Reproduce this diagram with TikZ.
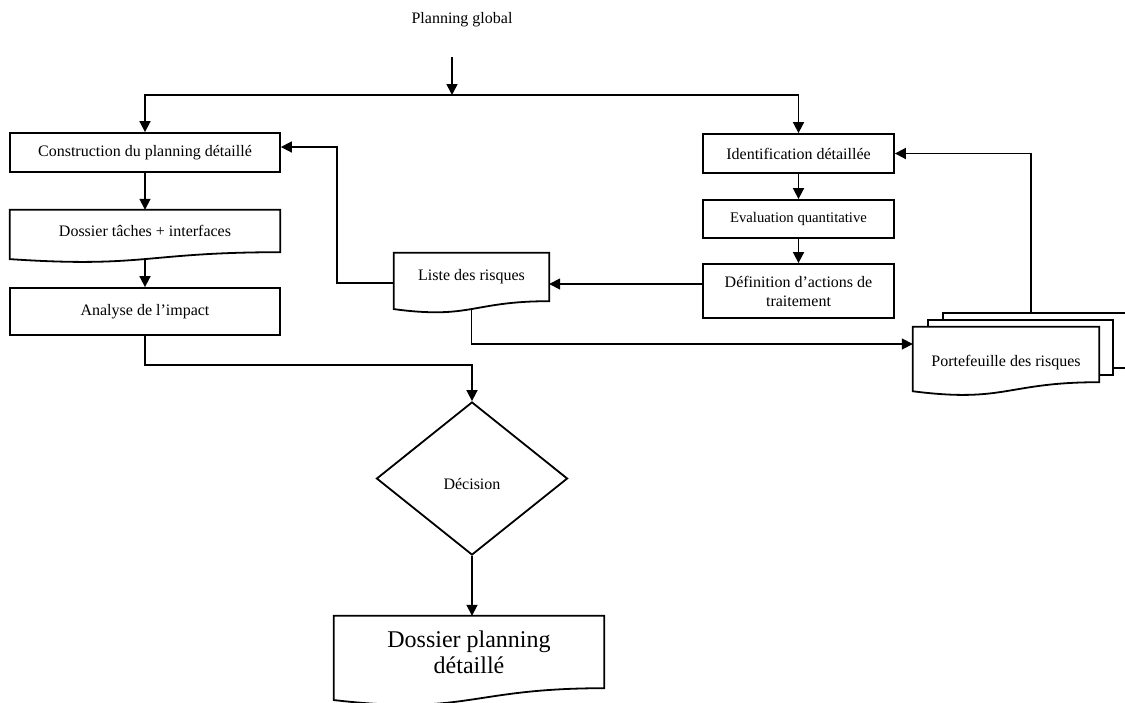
\documentclass[tikz,border=0pt]{standalone}
\usepackage{fontspec}
\setmainfont{Liberation Serif}
\usetikzlibrary{arrows.meta,calc,shapes.geometric}
\newcommand{\docwave}[2]{%
  \draw[outl] (#1.south west) -- (#1.north west) -- (#1.north east) -- (#1.south east)
    .. controls (#1.south) and ($(#1.south)+(0,0.381*#2)$) .. ($(#1.south west)+(0,0.1646*#2)$) -- cycle;
  \coordinate (#1-wave) at ($(#1.south)+(0,0.163*#2)$);}
\tikzset{
  outl/.style={line width=1.8pt, line join=miter},
  arr/.style={line width=1.7pt, -{Triangle[length=11pt,width=11pt]}},
  txt/.style={font=\fontsize{16}{19}\selectfont, align=center, inner sep=0pt},
  box/.style={txt, draw, line width=1.8pt},
  docnode/.style={txt},
}
\begin{document}
\begin{tikzpicture}[x=1pt,y=-1pt]
\useasboundingbox (0,0) rectangle (1125,702);
% top
\node[txt] (pg) at (462,20) {Planning global};
\coordinate (pgtop) at (452,57);
\coordinate (split) at (452,95);
% left column
\node[box, minimum width=270pt, minimum height=39pt] (constr) at (145,152.5) {Construction du planning détaillé};
\node[docnode, minimum width=270pt, minimum height=42pt] (dossier) at (145,231) {Dossier tâches + interfaces};
\docwave{dossier}{42}
\node[box, minimum width=270pt, minimum height=47pt] (analyse) at (145,311.5) {Analyse de l’impact};
% decision
\node[draw, diamond, line width=1.8pt, minimum width=191pt, minimum height=153pt, inner sep=0pt, font=\fontsize{16}{19}\selectfont] (dec) at (472,478.5) {\raisebox{-6pt}[\height][\depth]{Décision}};
\node[docnode, minimum width=270pt, minimum height=72pt, font=\fontsize{24}{26}\selectfont] (final) at (469,652) {Dossier planning\\détaillé};
\docwave{final}{72}
% right column
\node[box, minimum width=191pt, minimum height=39pt] (ident) at (798.5,153.5) {Identification détaillée};
\node[box, minimum width=191pt, minimum height=38pt, font=\fontsize{14.7}{17}\selectfont] (eval) at (798.5,219) {Evaluation quantitative};
\node[box, minimum width=191pt, minimum height=54pt] (def) at (798.5,291) {Définition d’actions de\\traitement};
% liste
\node[docnode, minimum width=155pt, minimum height=48pt] (liste) at (471.5,277) {Liste des risques};
\docwave{liste}{48}
% portefeuille (multi-document)
\node[docnode, minimum width=186pt, minimum height=55pt] (port) at (1006,354.5) {\raisebox{-8pt}[\height][\depth]{Portefeuille des risques}};
\draw[outl] ($(port.north west)+(30,-7)$) -- ($(port.north west)+(30,-14)$) -- ($(port.north east)+(30,-14)$) -- ($(port.south east)+(30,-14)$) -- ($(port.south east)+(14,-14)$);
\draw[outl] ($(port.north west)+(15,0)$) -- ($(port.north west)+(15,-7)$) -- ($(port.north east)+(14,-7)$) -- ($(port.south east)+(14,-7)$) -- ($(port.south east)+(0,-7)$);
\docwave{port}{55}
% connectors
\draw[arr] (pgtop) -- (split);
\draw[arr] (split) -| (constr.north);
\draw[arr] (split) -| (ident.north);
\draw[arr] (constr) -- (dossier);
\draw[arr] (dossier-wave) -- (analyse.north);
\draw[arr] (analyse.south) -- ++(0,29) -| (dec.north);
\draw[arr] (dec.south) -- (dec.south |- final.north);
\draw[arr] (ident) -- (eval);
\draw[arr] (eval) -- (def);
\draw[arr] (def.west |- 0,284) -- (liste.east |- 0,284);
\draw[arr] (liste.west |- 0,283) -- (337,283) -- (337,147) -- (constr.east |- 0,147);
\draw[arr] (liste-wave) |- (port.west |- 0,344);
\draw[arr] ($(port.north)+(25,-14)$) |- (ident.east);
\end{tikzpicture}
\end{document}
